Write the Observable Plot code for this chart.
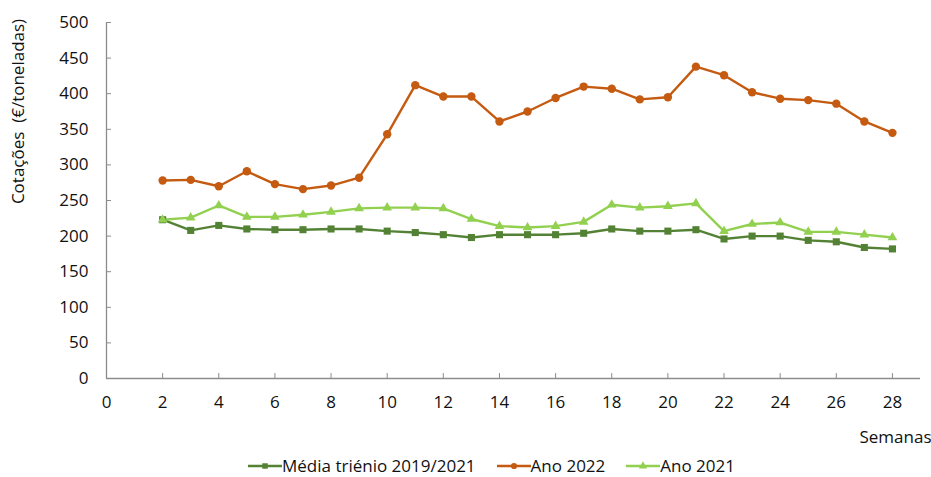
<!DOCTYPE html>
<html>
<head>
<meta charset="utf-8">
<script src="https://cdn.jsdelivr.net/npm/d3@7"></script>
<script src="https://cdn.jsdelivr.net/npm/@observablehq/plot@0.6"></script>
<style>
  html, body { margin: 0; padding: 0; background: #fff; }
  body { width: 931px; height: 477px; overflow: hidden; font-family: "Open Sans", sans-serif; color: #111; }
  #legend { display: flex; align-items: center; gap: 21px; padding-left: 248px; height: 20px; line-height: 20px; font-size: 17px; margin-top: 1px; }
  .item { display: flex; align-items: center; }
  .item svg { display: block; }
</style>
</head>
<body>
<div id="chart"></div>
<div id="legend"></div>
<script>
const weeks = [2,3,4,5,6,7,8,9,10,11,12,13,14,15,16,17,18,19,20,21,22,23,24,25,26,27,28];
const media = [223,208,215,210,209,209,210,210,207,205,202,198,202,202,202,204,210,207,207,209,196,200,200,194,192,184,182];
const ano2022 = [278,279,270,291,273,266,271,282,343,412,396,396,361,375,394,410,407,392,395,438,426,402,393,391,386,361,345];
const ano2021 = [223,226,243,227,227,230,234,239,240,240,239,224,214,212,214,220,244,240,242,246,207,217,219,206,206,202,198];
const seriesNames = ["Média triénio 2019/2021", "Ano 2022", "Ano 2021"];
const seriesColors = ["#548235", "#C55A11", "#92D050"];
const seriesSymbols = ["square", "circle", "triangle"];
const seriesR = [4, 4.2, 3.6];
const xTicks = [0,2,4,6,8,10,12,14,16,18,20,22,24,26,28];
const yTicks = [0,50,100,150,200,250,300,350,400,450,500];
const yLabel = "Cotações  (€/toneladas)";
const xLabel = "Semanas";

const valuesList = [media, ano2022, ano2021];
const rows = [];
valuesList.forEach((vals, si) => vals.forEach((v, i) => rows.push({week: weeks[i], value: v, series: seriesNames[si]})));

const W = 931, H = 455;
const mL = 106, mR = 11, mT = 22, mB = 77;
const frameW = W - mL - mR, frameH = H - mT - mB;
const axisColor = "#8c8c8c";
const FS = 17;

const marks = [
  Plot.ruleY([0], {stroke: axisColor, strokeWidth: 1.3}),
  Plot.ruleX([0], {stroke: axisColor, strokeWidth: 1.3}),
  Plot.tickX(xTicks.filter(d => d > 0), {x: d => d, stroke: axisColor, insetTop: frameH - 5}),
  Plot.tickY(yTicks.filter(d => d > 0), {y: d => d, stroke: axisColor, insetRight: frameW - 5}),
  Plot.axisX({ticks: xTicks, tickSize: 0, tickPadding: 17, label: null, fontSize: FS, fill: "#111"}),
  Plot.axisY({ticks: yTicks, tickSize: 0, tickPadding: 18, label: null, fontSize: FS, fill: "#111"}),
];
seriesNames.forEach((name, si) => {
  const data = rows.filter(d => d.series === name);
  marks.push(Plot.line(data, {x: "week", y: "value", stroke: seriesColors[si], strokeWidth: 2.4}));
});
seriesNames.forEach((name, si) => {
  const data = rows.filter(d => d.series === name);
  marks.push(Plot.dot(data, {x: "week", y: "value", fill: seriesColors[si], stroke: "none", symbol: () => seriesSymbols[si], r: seriesR[si]}));
});
marks.push(Plot.text([yLabel], {text: d => d, frameAnchor: "top-left", rotate: -90, dx: -88, dy: 89, fontSize: FS, textAnchor: "middle", lineAnchor: "middle", fill: "#111"}));
marks.push(Plot.text([xLabel], {text: d => d, frameAnchor: "bottom-right", dx: 11, dy: 59, fontSize: FS, textAnchor: "end", lineAnchor: "middle", fill: "#111"}));

const chart = Plot.plot({
  width: W, height: H,
  marginLeft: mL, marginRight: mR, marginTop: mT, marginBottom: mB,
  style: {fontFamily: "'Open Sans', sans-serif", fontSize: FS + "px", color: "#111", background: "#fff", overflow: "visible"},
  x: {domain: [0, 29]},
  y: {domain: [0, 500]},
  symbol: {type: "identity"},
  marks
});
document.getElementById("chart").appendChild(chart);

// Legend
const legend = d3.select("#legend");
seriesNames.forEach((name, si) => {
  const item = legend.append("div").attr("class", "item");
  const s = item.append("svg").attr("width", 34).attr("height", 12);
  s.append("line").attr("x1", 0).attr("x2", 34).attr("y1", 6).attr("y2", 6).attr("stroke", seriesColors[si]).attr("stroke-width", 2.4);
  s.append("path").attr("transform", "translate(17,6)").attr("d", d3.symbol(seriesSymbols[si] === "square" ? d3.symbolSquare : seriesSymbols[si] === "circle" ? d3.symbolCircle : d3.symbolTriangle, 30)()).attr("fill", seriesColors[si]);
  item.append("span").text(name);
});
</script>
</body>
</html>
